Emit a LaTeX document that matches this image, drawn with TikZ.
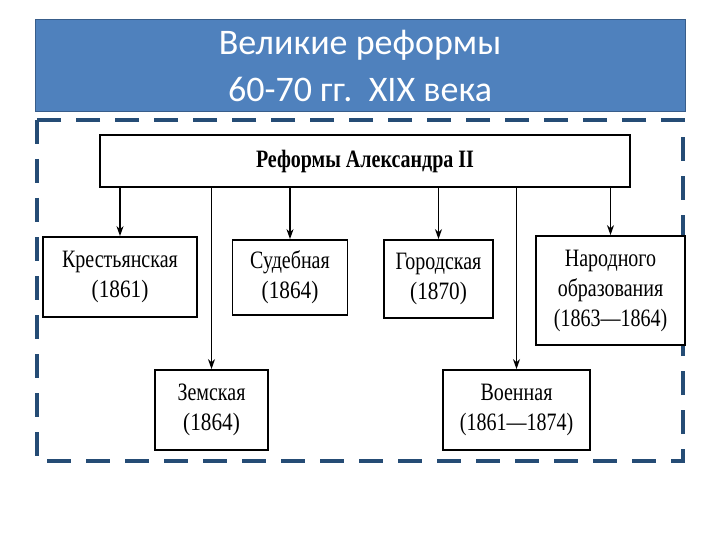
\documentclass[tikz,border=0pt]{standalone}
\usepackage{fontspec}
\setmainfont{Liberation Serif}
\newfontfamily\titlefont{Carlito}
\definecolor{titlebg}{RGB}{79,129,189}
\definecolor{titleedge}{RGB}{56,93,138}
\definecolor{dashc}{RGB}{37,76,117}
\tikzset{
  box/.style={draw=black, line width=1.8pt, fill=white, align=center, inner sep=0pt,
    font=\fontsize{25}{30}\selectfont},
  arr/.style={-{Stealth[length=10pt,width=7pt]}, line width=1.4pt}
}
\usetikzlibrary{arrows.meta}
\begin{document}
\begin{tikzpicture}[x=1pt,y=-1pt]
\useasboundingbox (0,0) rectangle (720,540);
\fill[white] (0,0) rectangle (720,540);
\node[draw=titleedge, line width=1pt, fill=titlebg, minimum width=650pt, minimum height=92pt, inner sep=0pt, text=white, align=center, font=\titlefont\fontsize{36}{47}\selectfont] (title) at (360,66) {Великие реформы\\60-70 гг.\ \ XIX века};
\draw[dashc, line width=4.5pt, dash pattern=on 24pt off 15pt] (37,120) rectangle (683,461);
\node[box, minimum width=530pt, minimum height=52pt, font=\bfseries\fontsize{25}{30}\selectfont] (top) at (365,161) {\scalebox{0.8}[1]{Реформы Александра II}};
\node[box, minimum width=154pt, minimum height=80pt] (kr) at (120,277) {\scalebox{0.8}[1]{Крестьянская}\\\scalebox{0.85}[1]{(1861)}};
\node[box, minimum width=115pt, minimum height=75pt] (su) at (290,277.5) {\scalebox{0.8}[1]{Судебная}\\\scalebox{0.85}[1]{(1864)}};
\node[box, minimum width=109pt, minimum height=78pt] (go) at (438.5,279) {\scalebox{0.8}[1]{Городская}\\\scalebox{0.85}[1]{(1870)}};
\node[box, minimum width=149pt, minimum height=109pt] (na) at (610.5,290.5) {\scalebox{0.8}[1]{Народного}\\\scalebox{0.8}[1]{образования}\\\scalebox{0.8}[1]{(1863---1864)}};
\node[box, minimum width=113pt, minimum height=80pt] (ze) at (211.5,410) {\scalebox{0.8}[1]{Земская}\\\scalebox{0.85}[1]{(1864)}};
\node[box, minimum width=147pt, minimum height=80pt] (vo) at (516.5,410) {\scalebox{0.8}[1]{Военная}\\\scalebox{0.8}[1]{(1861---1874)}};
\draw[arr] (top.south -| kr.north) -- (kr.north);
\draw[arr] (top.south -| ze.north) -- (ze.north);
\draw[arr] (top.south -| su.north) -- (su.north);
\draw[arr] (top.south -| go.north) -- (go.north);
\draw[arr] (top.south -| vo.north) -- (vo.north);
\draw[arr] (top.south -| na.north) -- (na.north);
\end{tikzpicture}
\end{document}
